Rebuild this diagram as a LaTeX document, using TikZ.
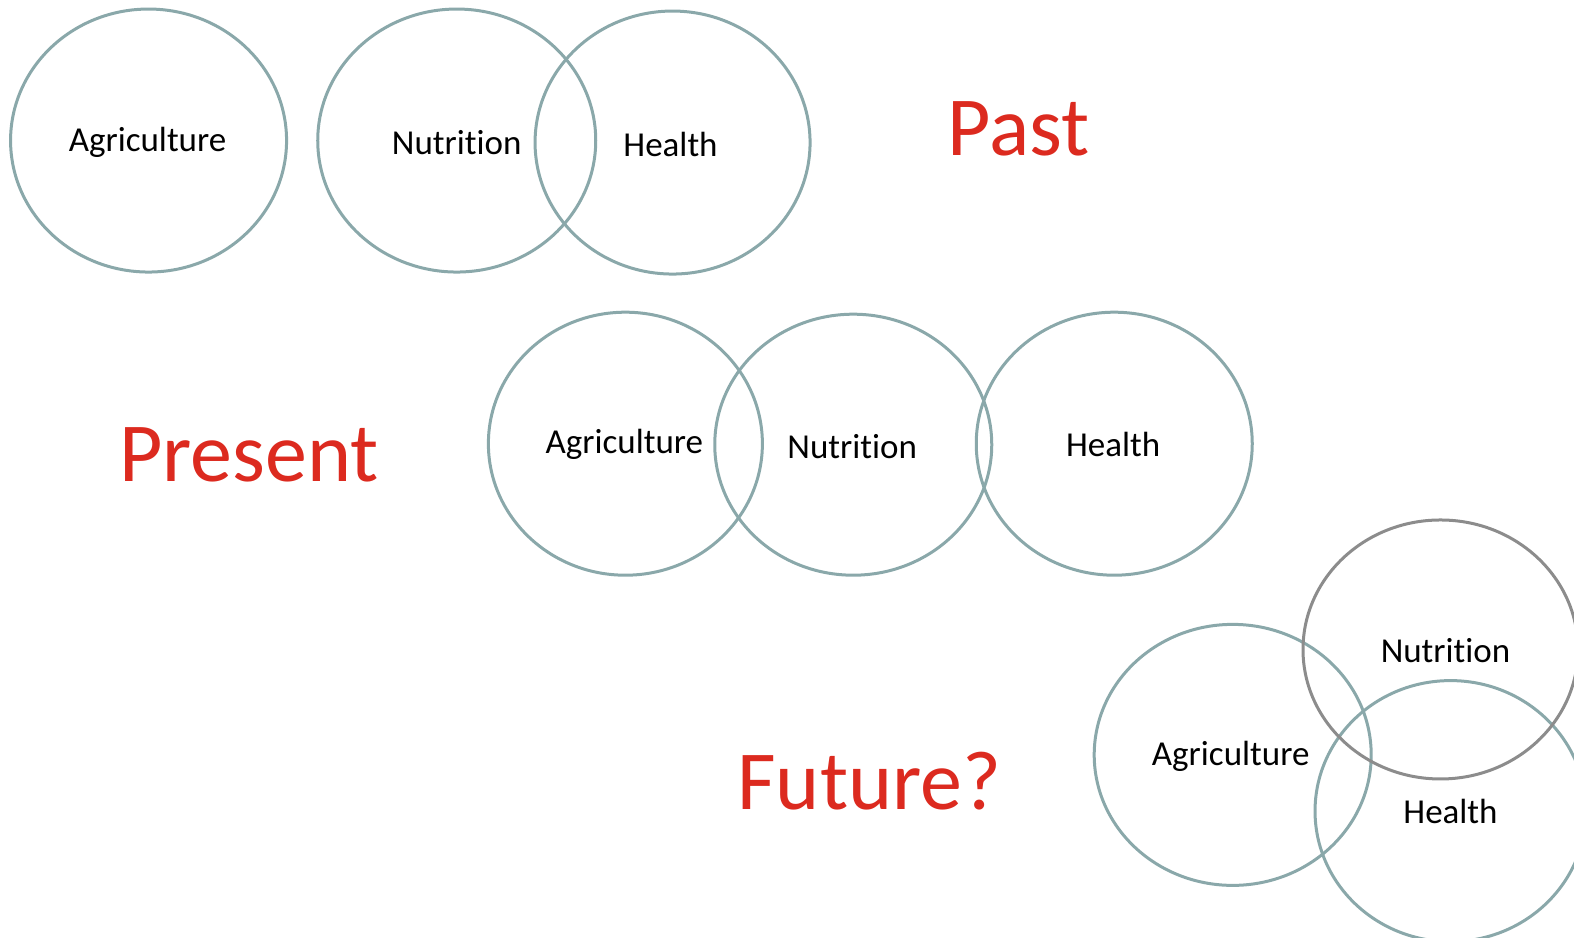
\documentclass[tikz,border=0pt]{standalone}
\usepackage{fontspec}
\setmainfont[Ligatures=NoCommon]{Carlito}
\usetikzlibrary{shapes.geometric}
\definecolor{ring}{HTML}{8AA8AA}
\definecolor{ringgrey}{HTML}{8C8C8C}
\definecolor{era}{HTML}{DC2A1F}
\tikzset{
  circ/.style={ellipse, draw=ring, line width=1.5pt, inner sep=0pt},
  greycirc/.style={circ, draw=ringgrey},
  word/.style={font=\fontsize{17.5}{20}\selectfont, text=black, inner sep=0pt},
  eralabel/.style={font=\fontsize{42}{48}\selectfont, text=era, inner sep=0pt}
}
\begin{document}
\begin{tikzpicture}[x=0.50191pt,y=-0.50191pt]
\useasboundingbox (0,0) rectangle (1568,934.4);
\clip (0,0) rectangle (1568,934.4);
% Past
\node[circ, minimum width=138pt, minimum height=131.5pt] (pa) at (148,140) {};
\node[circ, minimum width=139pt, minimum height=131.5pt] (pn) at (455,140) {};
\node[circ, minimum width=137.5pt, minimum height=131.5pt] (ph) at (670,142) {};
\node[word] (pat) at (147,142) {Agriculture};
\node[word] (pnt) at (455,142) {Nutrition};
\node[word] (pht) at (668,144) {Health};
\node[eralabel] (past) at (1015,128) {Past};
% Present
\node[circ, minimum width=137pt, minimum height=131.5pt] (ra) at (623,442) {};
\node[circ, minimum width=138.5pt, minimum height=130.5pt] (rn) at (850,443) {};
\node[circ, minimum width=138pt, minimum height=131.5pt] (rh) at (1110,442) {};
\node[word] (rat) at (622,443) {Agriculture};
\node[word] (rnt) at (849,445) {Nutrition};
\node[word] (rht) at (1109,443) {Health};
\node[eralabel] (present) at (248,453) {Present};
% Future
\node[circ, minimum width=138.5pt, minimum height=130.5pt] (fa) at (1228,752) {};
\node[circ, minimum width=135.5pt, minimum height=130.5pt] (fh) at (1445,808) {};
\node[greycirc, minimum width=137.5pt, minimum height=129.5pt] (fn) at (1435,647) {};
\node[word] (fat) at (1226,753) {Agriculture};
\node[word] (fnt) at (1440,648) {Nutrition};
\node[word] (fht) at (1445,808) {Health};
\node[eralabel] (future) at (866,778) {Future?};
\end{tikzpicture}
\end{document}
